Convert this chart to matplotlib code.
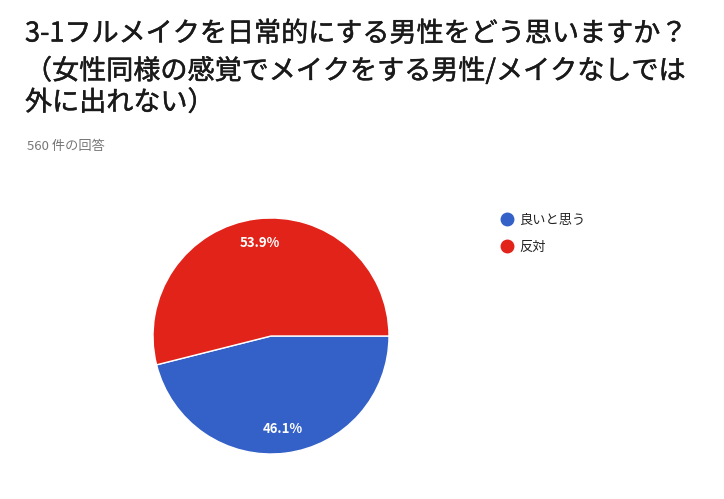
import numpy as np
import matplotlib
matplotlib.use('Agg')
import matplotlib.pyplot as plt
import matplotlib.patheffects as pe
from matplotlib.lines import Line2D

plt.rcParams['font.family'] = ['Noto Sans CJK JP', 'DejaVu Sans']

# données
reponses = ['良いと思う', '反対']
nombres = [258, 302]   # 560 réponses
couleurs = ['#3461c8', '#e2231a']
titre = ['3-1フルメイクを日常的にする男性をどう思いますか？',
         '（女性同様の感覚でメイクをする男性/メイクなしでは',
         '外に出れない）']
sous_titre = '560 件の回答'

fig = plt.figure(figsize=(7.24, 4.99), dpi=100)
W, H = 724, 499

# titre sur trois lignes (un peu épaissi)
epais = [pe.withStroke(linewidth=0.35, foreground='#1a1a1a')]
for ligne, yy in zip(titre, [34, 71, 103]):
    fig.text(25/W, 1-yy/H, ligne, fontsize=19.5, color='#1a1a1a',
             va='center', ha='left', weight='normal', path_effects=epais)
fig.text(27/W, 1-146/H, sous_titre, fontsize=9.5, color='#777777',
         va='center', ha='left')

# le camembert
cx, cy, r = 271, 336, 118
ax = fig.add_axes([(cx-r)/W, (H-cy-r)/H, 2*r/W, 2*r/H])
ax.pie(nombres, colors=couleurs, startangle=0, counterclock=False,
       autopct='%.1f%%', pctdistance=0.79, radius=1,
       wedgeprops=dict(edgecolor='white', linewidth=1),
       textprops=dict(color='white', fontsize=9.5, weight='bold'))
ax.set_xlim(-1, 1)
ax.set_ylim(-1, 1)
ax.set_aspect('equal')
ax.axis('off')

poignees = [Line2D([], [], marker='o', linestyle='none', color=c,
                   markersize=9) for c in couleurs]
fig.legend(poignees, reponses, loc='upper left',
           bbox_to_anchor=(500/W, 1-214/H), frameon=False,
           fontsize=9.5, labelcolor='#222222', handlelength=1.0,
           handletextpad=0.45, borderpad=0, borderaxespad=0,
           labelspacing=1.05)

fig.savefig('out.png', dpi=100)
